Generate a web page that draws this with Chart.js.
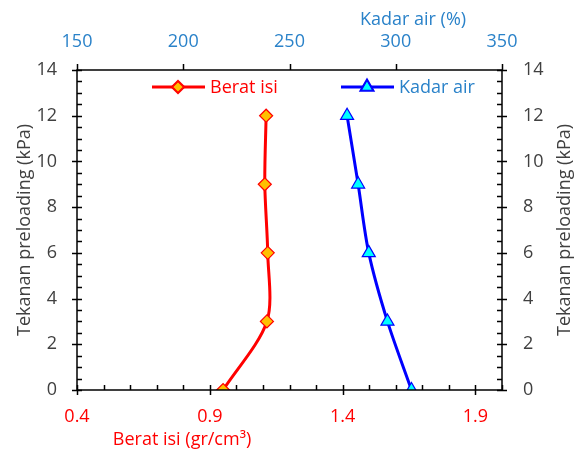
<!DOCTYPE html>
<html>
<head>
<meta charset="utf-8">
<script src="https://cdn.jsdelivr.net/npm/chart.js@4.4.1/dist/chart.umd.min.js"></script>
<style>
  html, body { margin: 0; padding: 0; background: #ffffff; }
  #wrap { width: 582px; height: 453px; position: relative; }
</style>
</head>
<body>
<div id="wrap"><canvas id="c" width="582" height="453"></canvas></div>
<script>
// Preloading pressure levels (kPa)
const tekanan = [0, 3, 6, 9, 12];
// Unit weight (gr/cm3) at each pressure level
const beratIsi = [0.95, 1.115, 1.118, 1.107, 1.112];
// Water content (%) at each pressure level
const kadarAir = [307.4, 296.1, 287.3, 282.3, 277.1];

// Axis tick labels
const beratTicks = [0.4, 0.9, 1.4, 1.9];
const kadarTicks = [150, 200, 250, 300, 350];
const tekananTicks = [0, 2, 4, 6, 8, 10, 12, 14];

const FONT = "'Open Sans', 'Noto Sans', sans-serif";
const RED = '#FF0000';
const BLUE = '#2A82C9';
const GREY = '#404040';

const toPoints = (xs) => xs.map((v, i) => ({ x: v, y: tekanan[i] }));

const fixTicks = (list) => (scale) => {
  scale.ticks = list.map(v => ({ value: v }));
};

// Axis frame, tick marks, axis titles and the legend
const decor = {
  id: 'decor',
  afterDraw(chart) {
    const ctx = chart.ctx;
    const a = chart.chartArea;
    const sx = chart.scales.x, sx2 = chart.scales.x2, sy = chart.scales.y;
    ctx.save();
    ctx.strokeStyle = '#000000';
    ctx.lineWidth = 1.5;
    ctx.beginPath();
    ctx.rect(a.left, a.top, a.right - a.left, a.bottom - a.top);
    ctx.stroke();

    ctx.lineWidth = 1.5;
    ctx.beginPath();
    // bottom axis: crossing majors, inward minors
    for (let v = 4; v <= 20; v++) {
      const px = Math.round(sx.getPixelForValue(v / 10)) + 0.5;
      const major = (v - 4) % 5 === 0;
      ctx.moveTo(px, a.bottom + (major ? 5 : 0));
      ctx.lineTo(px, a.bottom - 5);
    }
    // top axis: outward majors
    kadarTicks.forEach(v => {
      const px = Math.round(sx2.getPixelForValue(v)) + 0.5;
      ctx.moveTo(px, a.top);
      ctx.lineTo(px, a.top - 6);
    });
    // left and right axes: crossing majors, inward minors
    for (let v = 0; v <= 28; v++) {
      const py = Math.round(sy.getPixelForValue(v / 2)) + 0.5;
      const major = v % 4 === 0;
      ctx.moveTo(a.left - (major ? 5 : 0), py);
      ctx.lineTo(a.left + 5, py);
      ctx.moveTo(a.right + (major ? 5 : 0), py);
      ctx.lineTo(a.right - 5, py);
    }
    ctx.stroke();

    // axis titles
    ctx.textBaseline = 'middle';
    ctx.textAlign = 'center';
    ctx.font = '18px ' + FONT;
    ctx.fillStyle = BLUE;
    ctx.fillText('Kadar air (%)', 413, 20);
    ctx.fillStyle = RED;
    ctx.fillText('Berat isi (gr/cm³)', 182, 440);
    ctx.fillStyle = GREY;
    const midY = (a.top + a.bottom) / 2;
    [25, 565].forEach(x => {
      ctx.save();
      ctx.translate(x, midY);
      ctx.rotate(-Math.PI / 2);
      ctx.fillText('Tekanan preloading (kPa)', 0, 0);
      ctx.restore();
    });

    // legend
    const items = [
      { ds: chart.data.datasets[0], x0: 152, color: RED, r: 5.5 },
      { ds: chart.data.datasets[1], x0: 341, color: BLUE, r: 6.5 }
    ];
    const ly = 87;
    ctx.font = '18px ' + FONT;
    ctx.textAlign = 'left';
    items.forEach(it => {
      ctx.strokeStyle = it.ds.borderColor;
      ctx.lineWidth = 3;
      ctx.beginPath();
      ctx.moveTo(it.x0, ly);
      ctx.lineTo(it.x0 + 53, ly);
      ctx.stroke();
      Chart.helpers.drawPoint(ctx, {
        pointStyle: it.ds.pointStyle,
        radius: it.r,
        borderWidth: it.ds.pointBorderWidth,
        rotation: 0
      }, it.x0 + 26, ly);
      ctx.fillStyle = it.ds.pointBackgroundColor;
      ctx.strokeStyle = it.ds.pointBorderColor;
      ctx.lineWidth = it.ds.pointBorderWidth;
      ctx.fill();
      ctx.stroke();
      ctx.fillStyle = it.color;
      ctx.fillText(it.ds.label, it.x0 + 58, ly + 1);
    });
    ctx.restore();
  }
};

new Chart(document.getElementById('c'), {
  type: 'line',
  data: {
    datasets: [
      {
        label: 'Berat isi',
        data: toPoints(beratIsi),
        xAxisID: 'x', yAxisID: 'y',
        borderColor: RED, borderWidth: 3,
        pointStyle: 'rectRot', pointRadius: 6.5, pointBorderWidth: 1.2,
        pointBackgroundColor: '#FFC000', pointBorderColor: RED,
        tension: 0.3, fill: false
      },
      {
        label: 'Kadar air',
        data: toPoints(kadarAir),
        xAxisID: 'x2', yAxisID: 'y',
        borderColor: '#0000FF', borderWidth: 3,
        pointStyle: 'triangle', pointRadius: 7.5, pointBorderWidth: 1.2,
        pointBackgroundColor: '#00FFFF', pointBorderColor: '#0000FF',
        tension: 0.3, fill: false
      }
    ]
  },
  options: {
    responsive: false,
    animation: false,
    layout: { padding: 0 },
    plugins: { legend: { display: false }, tooltip: { enabled: false } },
    scales: {
      x: {
        type: 'linear', position: 'bottom', min: 0.4, max: 2.0,
        afterBuildTicks: fixTicks(beratTicks),
        afterFit: s => { s.height = 63; },
        grid: { display: false, drawTicks: false },
        border: { display: false },
        ticks: { color: RED, padding: 16, font: { family: FONT, size: 18 },
                 callback: v => v.toFixed(1) }
      },
      x2: {
        type: 'linear', position: 'top', min: 150, max: 350,
        afterBuildTicks: fixTicks(kadarTicks),
        afterFit: s => { s.height = 70; },
        grid: { display: false, drawTicks: false },
        border: { display: false },
        ticks: { color: BLUE, padding: 17, font: { family: FONT, size: 18 } }
      },
      y: {
        type: 'linear', position: 'left', min: 0, max: 14,
        afterBuildTicks: fixTicks(tekananTicks),
        afterFit: s => { s.width = 77; },
        grid: { display: false, drawTicks: false },
        border: { display: false },
        ticks: { color: GREY, padding: 20, font: { family: FONT, size: 18 } }
      },
      y2: {
        type: 'linear', position: 'right', min: 0, max: 14,
        afterBuildTicks: fixTicks(tekananTicks),
        afterFit: s => { s.width = 80; },
        grid: { display: false, drawTicks: false },
        border: { display: false },
        ticks: { color: GREY, padding: 21, font: { family: FONT, size: 18 } }
      }
    }
  },
  plugins: [decor]
});
</script>
</body>
</html>
